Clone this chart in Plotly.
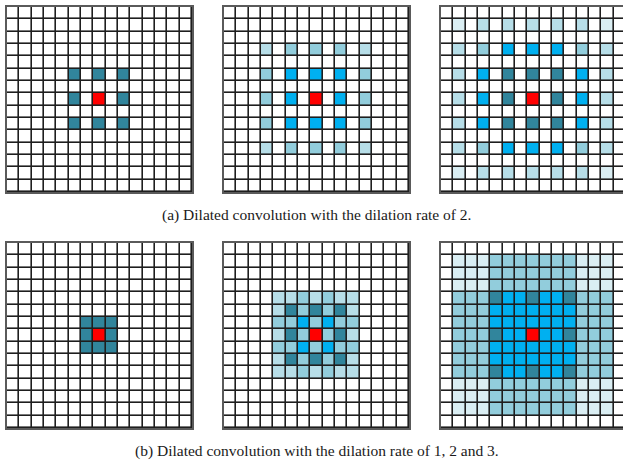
import plotly.graph_objects as go

# Cell codes: '.' empty, v/l/m = pale/light/medium blue-grey, b = bright blue,
# t = dark teal (kernel taps), r = red (centre pixel)
grid_a1 = [
    "...............",
    "...............",
    "...............",
    "...............",
    "...............",
    ".....t.t.t.....",
    "...............",
    ".....t.r.t.....",
    "...............",
    ".....t.t.t.....",
    "...............",
    "...............",
    "...............",
    "...............",
    "...............",
]
grid_a2 = [
    "...............",
    "...............",
    "...............",
    "...l.m.m.m.l...",
    "...............",
    "...m.b.b.b.m...",
    "...............",
    "...m.b.r.b.m...",
    "...............",
    "...m.b.b.b.m...",
    "...............",
    "...l.m.m.m.l...",
    "...............",
    "...............",
    "...............",
]
grid_a3 = [
    "...............",
    ".v.l.l.l.l.l.v.",
    "...............",
    ".l.m.b.b.b.m.l.",
    "...............",
    ".l.b.t.t.t.b.l.",
    "...............",
    ".l.b.t.r.t.b.l.",
    "...............",
    ".l.b.t.t.t.b.l.",
    "...............",
    ".l.m.b.b.b.m.l.",
    "...............",
    ".v.l.l.l.l.l.v.",
    "...............",
]
grid_b1 = [
    "...............",
    "...............",
    "...............",
    "...............",
    "...............",
    "...............",
    "......ttt......",
    "......trt......",
    "......ttt......",
    "...............",
    "...............",
    "...............",
    "...............",
    "...............",
    "...............",
]
grid_b2 = [
    "...............",
    "...............",
    "...............",
    "...............",
    "....llmlmll....",
    "....ltmtmtl....",
    "....mmbmbmm....",
    "....ltmrmtl....",
    "....mmbmbmm....",
    "....ltmtmtl....",
    "....llmlmll....",
    "...............",
    "...............",
    "...............",
    "...............",
]
grid_b3 = [
    "...............",
    ".vvvmmmmmmmvvv.",
    ".vvvmmmmmmmvvv.",
    ".vvvmmmmmmmvvv.",
    ".mmmtbbtbbtmmm.",
    ".mmmbbbbbbbmmm.",
    ".mmmbbbbbbbmmm.",
    ".mmmtbbrbbtmmm.",
    ".mmmbbbbbbbmmm.",
    ".mmmbbbbbbbmmm.",
    ".mmmtbbtbbtmmm.",
    ".vvvmmmmmmmvvv.",
    ".vvvmmmmmmmvvv.",
    ".vvvmmmmmmmvvv.",
    "...............",
]
captions = [
    "(a) Dilated convolution with the dilation rate of 2.",
    "(b) Dilated convolution with the dilation rate of 1, 2 and 3.",
]

codes = ".vlmbtr"
palette = ["#FFFFFF", "#DAEEF3", "#B7DEE8", "#92CDDC", "#00B0F0", "#31859C", "#FF0000"]
n = len(palette)
colorscale = []
for i, c in enumerate(palette):
    colorscale += [[i / n, c], [(i + 1) / n, c]]

W, H = 623, 469
cell = 185 / 15
col_left = [7, 224, 441]
row_top = [7, 243]
panels = [[grid_a1, grid_a2, grid_a3], [grid_b1, grid_b2, grid_b3]]

fig = go.Figure()
k = 0
for r, row in enumerate(panels):
    for c, grid in enumerate(row):
        k += 1
        z = [[codes.index(ch) for ch in line] for line in grid]
        xa = "x" if k == 1 else f"x{k}"
        ya = "y" if k == 1 else f"y{k}"
        fig.add_trace(go.Heatmap(
            z=z, xaxis=xa, yaxis=ya, colorscale=colorscale,
            zmin=-0.5, zmax=n - 0.5, showscale=False, xgap=1.6, ygap=1.6,
            hoverinfo="skip",
        ))
        x0 = col_left[c] / W
        x1 = min((col_left[c] + 185) / W, 1.0)
        span = (min(col_left[c] + 185, W) - col_left[c]) / cell
        y1 = 1 - row_top[r] / H
        y0 = 1 - (row_top[r] + 185) / H
        clipped = x1 >= 1.0
        xkey = "xaxis" if k == 1 else f"xaxis{k}"
        ykey = "yaxis" if k == 1 else f"yaxis{k}"
        fig.update_layout(**{
            xkey: dict(domain=[x0, x1], range=[-0.5, -0.5 + span], anchor=ya,
                       showgrid=False, zeroline=False, showticklabels=False,
                       ticks="", showline=True, mirror=True,
                       linecolor="#5a5a5a", linewidth=1.5, fixedrange=True),
            ykey: dict(domain=[y0, y1], range=[14.5, -0.5], anchor=xa,
                       showgrid=False, zeroline=False, showticklabels=False,
                       ticks="", showline=True, mirror=not clipped,
                       linecolor="#5a5a5a", linewidth=1.5, fixedrange=True),
        })

caption_y = [215, 451]
for text, yc in zip(captions, caption_y):
    fig.add_annotation(
        text=text, xref="paper", yref="paper", x=317 / W, y=1 - yc / H,
        showarrow=False, xanchor="center", yanchor="middle",
        font=dict(family="Liberation Serif, Times New Roman, serif", size=15.5, color="#1a1a1a"),
    )

fig.update_layout(
    width=W, height=H, margin=dict(l=0, r=0, t=0, b=0),
    paper_bgcolor="white", plot_bgcolor="#1e1e1e", showlegend=False,
)

fig.write_html("out.html")
